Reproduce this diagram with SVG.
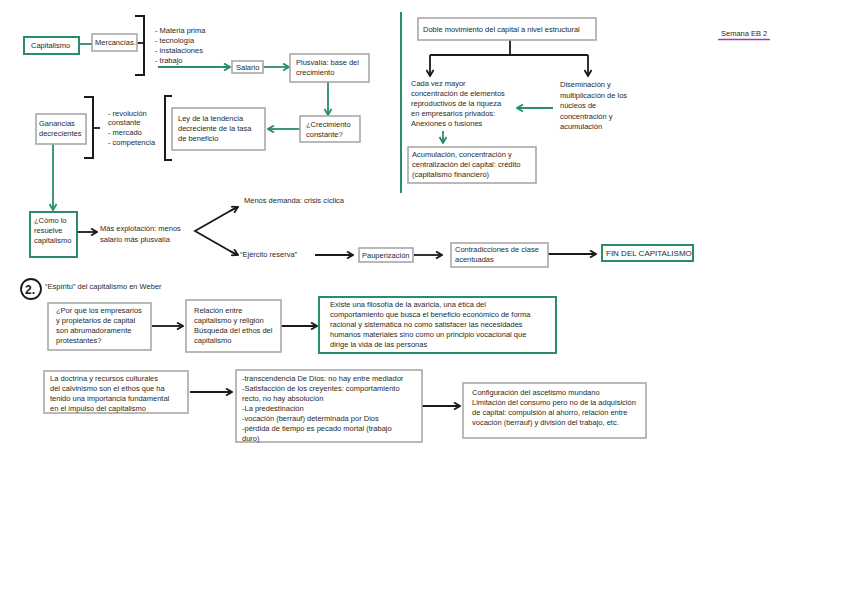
<svg xmlns="http://www.w3.org/2000/svg" width="848" height="599" viewBox="0 0 848 599">
<style>
text{font-family:"Liberation Sans","DejaVu Sans",sans-serif;font-size:7.5px;fill:#2a2a2a}
.box{fill:#fff;stroke:#a8a8a8;stroke-width:1.6}
.gbox{fill:#fff;stroke:#2a8c6a;stroke-width:2}
.bl{fill:none;stroke:#1a1a1a;stroke-width:1.8}
.gl{fill:none;stroke:#2a8c6a;stroke-width:1.8}
.br{fill:none;stroke:#1a1a1a;stroke-width:2}
</style>
<defs>
<marker id="ab" markerUnits="userSpaceOnUse" viewBox="0 0 8 8" refX="7" refY="4" markerWidth="8" markerHeight="8" orient="auto"><path d="M1,0.5 L7,4 L1,7.5" fill="none" stroke="#1a1a1a" stroke-width="1.8"/></marker>
<marker id="ag" markerUnits="userSpaceOnUse" viewBox="0 0 8 8" refX="7" refY="4" markerWidth="8" markerHeight="8" orient="auto"><path d="M1,0.5 L7,4 L1,7.5" fill="none" stroke="#2a8c6a" stroke-width="1.8"/></marker>
</defs>
<rect width="848" height="599" fill="#fff"/>

<g id="connectors">
<line class="gl" x1="79" y1="44" x2="92" y2="44"/>
<line class="bl" x1="137" y1="43" x2="144" y2="43"/>
<polyline class="br" points="135,16 144,16 144,75 135,75"/>
<line class="gl" x1="158" y1="67" x2="230" y2="67" marker-end="url(#ag)"/>
<line class="gl" x1="263" y1="67" x2="289" y2="67" marker-end="url(#ag)"/>
<line class="gl" x1="328" y1="82" x2="328" y2="115" marker-end="url(#ag)"/>
<line class="gl" x1="300" y1="129" x2="268" y2="129" marker-end="url(#ag)"/>
<polyline class="br" points="84,97 93,97 93,158 84,158"/>
<line class="bl" x1="93" y1="128" x2="100" y2="128"/>
<polyline class="br" points="172,96 165,96 165,160 172,160"/>
<line class="gl" x1="53" y1="144" x2="53" y2="210" marker-end="url(#ag)"/>
<line class="bl" x1="77" y1="232" x2="97" y2="232" marker-end="url(#ab)"/>
<polyline class="bl" points="237,207 195,231 237,255" />
<line class="bl" x1="230" y1="211" x2="238" y2="207" marker-end="url(#ab)"/>
<line class="bl" x1="230" y1="251" x2="238" y2="255" marker-end="url(#ab)"/>
<line class="bl" x1="315" y1="255" x2="353" y2="255" marker-end="url(#ab)"/>
<line class="bl" x1="414" y1="255" x2="442" y2="255" marker-end="url(#ab)"/>
<line class="bl" x1="548" y1="254" x2="596" y2="254" marker-end="url(#ab)"/>
<line x1="401" y1="12" x2="401" y2="193" stroke="#2a8c6a" stroke-width="2"/>
<line class="bl" x1="510" y1="40" x2="510" y2="55"/>
<line class="bl" x1="430" y1="55" x2="588" y2="55"/>
<line class="bl" x1="430" y1="55" x2="430" y2="76" marker-end="url(#ab)"/>
<line class="bl" x1="588" y1="55" x2="588" y2="76" marker-end="url(#ab)"/>
<line class="gl" x1="553" y1="108" x2="517" y2="108" marker-end="url(#ag)"/>
<line class="gl" x1="443" y1="131" x2="443" y2="143" marker-end="url(#ag)"/>
<line class="bl" x1="152" y1="326" x2="183" y2="326" marker-end="url(#ab)"/>
<line class="bl" x1="281" y1="326" x2="317" y2="326" marker-end="url(#ab)"/>
<line class="bl" x1="190" y1="392" x2="232" y2="392" marker-end="url(#ab)"/>
<line class="bl" x1="422" y1="406" x2="460" y2="406" marker-end="url(#ab)"/>
<line x1="718" y1="39.5" x2="770" y2="39.5" stroke="#9b3fbf" stroke-width="1.6"/>
</g>

<g id="capitalismo"><rect class="gbox" x="24" y="37" width="55" height="17"/><text x="31" y="48">Capitalismo</text></g>
<g id="mercancias"><rect class="box" x="92" y="34" width="45" height="17"/><text x="95" y="45">Mercancías.</text></g>
<g id="lista1"><text x="155" y="33">- Materia prima</text><text x="155" y="43">- tecnología</text><text x="155" y="53">- instalaciones</text><text x="155" y="63">- trabajo</text></g>
<g id="salario"><rect class="box" x="232" y="61" width="31" height="12"/><text x="236" y="70">Salario</text></g>
<g id="plusvalia"><rect class="box" x="290" y="54" width="79" height="28"/><text x="296" y="65">Plusvalía: base del</text><text x="296" y="75">crecimiento</text></g>
<g id="crecimiento"><rect class="box" x="300" y="116" width="60" height="26"/><text x="306" y="127">¿Crecimiento</text><text x="306" y="137">constante?</text></g>
<g id="ley"><rect class="box" x="172" y="108" width="93" height="42"/><text x="178" y="121">Ley de la tendencia</text><text x="178" y="131">decreciente de la tasa</text><text x="178" y="141">de beneficio</text></g>
<g id="ganancias"><rect class="box" x="36" y="114" width="50" height="30"/><text x="39" y="126">Ganancias</text><text x="39" y="136">decrecientes</text></g>
<g id="lista2"><text x="108" y="116">- revolución</text><text x="108" y="125">constante</text><text x="108" y="135">- mercado</text><text x="108" y="145">- competencia</text></g>
<g id="como"><rect class="gbox" x="30" y="212" width="47" height="45"/><text x="34" y="223">¿Cómo lo</text><text x="34" y="233">resuelve</text><text x="34" y="243">capitalismo</text></g>
<g id="explotacion"><text x="100" y="231">Más explotación: menos</text><text x="100" y="242">salario más plusvalía</text></g>
<g id="menos"><text x="244" y="203">Menos demanda: crisis cíclica</text></g>
<g id="ejercito"><text x="240" y="257">“Ejército reserva”</text></g>
<g id="pauperizacion"><rect class="box" x="359" y="248" width="54" height="14"/><text x="362" y="258">Pauperización</text></g>
<g id="contradicciones"><rect class="box" x="451" y="243" width="97" height="24"/><text x="455" y="252">Contradicciones de clase</text><text x="455" y="262">acentuadas</text></g>
<g id="fin"><rect class="gbox" x="602" y="245" width="91" height="16"/><text x="606" y="256" style="font-size:8px">FIN DEL CAPITALISMO</text></g>

<g id="doble"><rect class="box" x="418" y="18" width="178" height="22"/><text x="423" y="32">Doble movimiento del capital a nivel estructural</text></g>
<g id="cada"><text x="411" y="86">Cada vez mayor</text><text x="411" y="96">concentración de elementos</text><text x="411" y="106">reproductivos de la riqueza</text><text x="411" y="116">en empresarios privados:</text><text x="411" y="126">Anexiones o fusiones</text></g>
<g id="diseminacion"><text x="560" y="87">Diseminación y</text><text x="560" y="98">multiplicación de los</text><text x="560" y="108">núcleos de</text><text x="560" y="119">concentración y</text><text x="560" y="129">acumulación</text></g>
<g id="acumulacion"><rect class="box" x="408" y="147" width="128" height="36"/><text x="412" y="157">Acumulación, concentración y</text><text x="412" y="167">centralización del capital: crédito</text><text x="412" y="177">(capitalismo financiero)</text></g>
<g id="semana"><text x="721" y="36">Semana EB 2</text></g>

<g id="titulo2"><circle cx="31" cy="289" r="10" fill="none" stroke="#1a1a1a" stroke-width="1.8"/><text x="25" y="294" style="font-size:12px;font-weight:bold;fill:#1a1a1a">2.</text><text x="45" y="289">“Espíritu” del capitalismo en Weber</text></g>
<g id="porque"><rect class="box" x="48" y="303" width="103" height="47"/><text x="56" y="313">¿Por qué los empresarios</text><text x="56" y="323">y propietarios de capital</text><text x="56" y="333">son abrumadoramente</text><text x="56" y="343">protestantes?</text></g>
<g id="relacion"><rect class="box" x="186" y="300" width="95" height="52"/><text x="194" y="313">Relación entre</text><text x="194" y="323">capitalismo y religión</text><text x="194" y="333">Búsqueda del ethos del</text><text x="194" y="343">capitalismo</text></g>
<g id="existe"><rect class="gbox" x="319" y="297" width="237" height="56"/><text x="330" y="307">Existe una filosofía de la avaricia, una ética del</text><text x="330" y="317">comportamiento que busca el beneficio económico de forma</text><text x="330" y="327">racional y sistemática no como satisfacer las necesidades</text><text x="330" y="337">humanos materiales sino como un principio vocacional que</text><text x="330" y="347">dirige la vida de las personas</text></g>
<g id="doctrina"><rect class="box" x="44" y="371" width="144" height="42"/><text x="50" y="381">La doctrina y recursos culturales</text><text x="50" y="391">del calvinismo son el ethos que ha</text><text x="50" y="401">tenido una importancia fundamental</text><text x="50" y="411">en el impulso del capitalismo</text></g>
<g id="transcendencia"><rect class="box" x="236" y="370" width="186" height="72"/><text x="242" y="381">-transcendencia De Dios: no hay entre mediador</text><text x="242" y="391">-Satisfacción de los creyentes: comportamiento</text><text x="242" y="401">recto, no hay absolución</text><text x="242" y="411">-La predestinación</text><text x="242" y="421">-vocación (berrauf) determinada por Dios</text><text x="242" y="431">-pérdida de tiempo es pecado mortal (trabajo</text><text x="242" y="441">duro)</text></g>
<g id="configuracion"><rect class="box" x="463" y="383" width="183" height="55"/><text x="472" y="395">Configuración del ascetismo mundano</text><text x="472" y="405">Limitación del consumo pero no de la adquisición</text><text x="472" y="415">de capital: compulsión al ahorro, relación entre</text><text x="472" y="425">vocación (berrauf) y división del trabajo, etc.</text></g>
</svg>
